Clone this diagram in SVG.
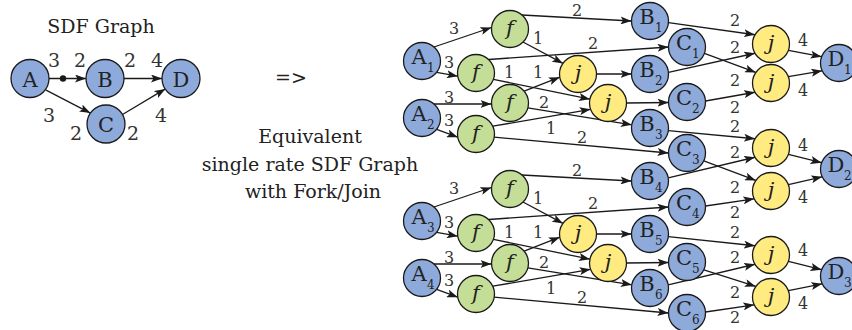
<svg xmlns="http://www.w3.org/2000/svg" width="852" height="330" viewBox="0 0 852 330">
<style>
.e{stroke:#1a1a1a;stroke-width:1.3;fill:none;marker-end:url(#ah)}
.nb{fill:#8eaadb;stroke:#1a1a1a;stroke-width:1.3}
.ng{fill:#c4de97;stroke:#1a1a1a;stroke-width:1.3}
.ny{fill:#ffeb80;stroke:#1a1a1a;stroke-width:1.3}
text{font-family:'DejaVu Serif',serif;fill:#222}
.l{font-size:21px;text-anchor:middle}
.s{font-size:12px}
.fj{font-size:21px;font-style:italic;text-anchor:middle}
.n{font-size:16px;text-anchor:middle;fill:#333}
.nl{font-size:19px;text-anchor:middle;fill:#333}
.h{font-size:19px;text-anchor:middle}
</style>
<defs>
<marker id="ah" markerUnits="userSpaceOnUse" markerWidth="11" markerHeight="8" viewBox="0 0 11 8" refX="11" refY="4" orient="auto">
<path d="M0,0 L11,4 L0,8 L2.5,4 z" fill="#1a1a1a"/>
</marker>
</defs>

<text class="h" x="101" y="33">SDF Graph</text>
<text class="h" x="291" y="84">=&gt;</text>
<text class="h" x="310" y="143">Equivalent</text>
<text class="h" x="310" y="171">single rate SDF Graph</text>
<text class="h" x="313" y="198">with Fork/Join</text>

<g id="connectors">
<path class="e" d="M49,78.5 L86,78.5"/>
<circle cx="63" cy="78.5" r="3.2" fill="#1a1a1a"/>
<path class="e" d="M124,78.5 L162,78.5"/>
<path class="e" d="M45.6,89.9 L90.4,113.1"/>
<path class="e" d="M122.5,114.5 L165.4,88.9"/>
<g id="g1">
<path class="e" d="M434,47 L491.5,27.5"/>
<path class="e" d="M436.6,72.4 L457.8,76.2"/>
<path class="e" d="M434,104 L491.5,104"/>
<path class="e" d="M436.6,129.4 L457.8,137.2"/>
<path class="e" d="M522,15 L631.5,21"/>
<path class="e" d="M523,42 L563,63.4"/>
<path class="e" d="M488.6,59.5 L668.5,47"/>
<path class="e" d="M493.4,79.3 L589.9,99.2"/>
<path class="e" d="M524.2,91.1 L559.8,77.2"/>
<path class="e" d="M527.9,107.8 L631.8,124.8"/>
<path class="e" d="M492.8,126.2 L590.6,109.3"/>
<path class="e" d="M494.2,137.2 L668.5,153"/>
<path class="e" d="M596.5,74 L631.5,74"/>
<path class="e" d="M626.5,103 L668.5,102.5"/>
</g>
<g id="g2" transform="translate(0,160)">
<path class="e" d="M434,47 L491.5,27.5"/>
<path class="e" d="M436.6,72.4 L457.8,76.2"/>
<path class="e" d="M434,104 L491.5,104"/>
<path class="e" d="M436.6,129.4 L457.8,137.2"/>
<path class="e" d="M522,15 L631.5,21"/>
<path class="e" d="M523,42 L563,63.4"/>
<path class="e" d="M488.6,59.5 L668.5,47"/>
<path class="e" d="M493.4,79.3 L589.9,99.2"/>
<path class="e" d="M524.2,91.1 L559.8,77.2"/>
<path class="e" d="M527.9,107.8 L631.8,124.8"/>
<path class="e" d="M492.8,126.2 L590.6,109.3"/>
<path class="e" d="M494.2,137.2 L668.5,153"/>
<path class="e" d="M596.5,74 L631.5,74"/>
<path class="e" d="M626.5,103 L668.5,102.5"/>
</g>
<path class="e" d="M668.4,22.6 L755,34.75"/>
<path class="e" d="M668.4,72.4 L755,53.25"/>
<path class="e" d="M704.4,53.3 L755.8,72.4"/>
<path class="e" d="M705.5,101 L755,92.25"/>
<path class="e" d="M668.3,130.6 L755,138.75"/>
<path class="e" d="M703.8,160.8 L755.8,180.4"/>
<path class="e" d="M668.2,177.8 L755,157.25"/>
<path class="e" d="M705.5,206 L754.2,198.8"/>
<path class="e" d="M668.3,236.6 L755,245.75"/>
<path class="e" d="M703.8,269.8 L755.8,286.4"/>
<path class="e" d="M668.2,284.8 L755,264.25"/>
<path class="e" d="M705.5,312 L754.2,304.8"/>
<path class="e" d="M788.4,50.3 L821.6,56.7"/>
<path class="e" d="M788.4,76.7 L822.2,70.8"/>
<path class="e" d="M788.4,154.3 L821.6,162.7"/>
<path class="e" d="M788.4,184.7 L822.2,176.8"/>
<path class="e" d="M788.4,261.3 L821.6,269.7"/>
<path class="e" d="M788.4,290.7 L822.2,283.8"/>
</g>

<g id="edge-labels">
<text class="nl" x="54" y="67">3</text>
<text class="nl" x="80" y="67">2</text>
<text class="nl" x="130" y="67">2</text>
<text class="nl" x="157" y="67">4</text>
<text class="nl" x="49" y="122">3</text>
<text class="nl" x="161" y="122">4</text>
<text class="nl" x="76" y="140">2</text>
<text class="nl" x="133" y="140">2</text>
<g>
<text class="n" x="454" y="34">3</text>
<text class="n" x="449" y="68">3</text>
<text class="n" x="449" y="103">3</text>
<text class="n" x="449" y="126">3</text>
<text class="n" x="577" y="16">2</text>
<text class="n" x="538" y="44">1</text>
<text class="n" x="593" y="49">2</text>
<text class="n" x="509" y="78">1</text>
<text class="n" x="538" y="78">1</text>
<text class="n" x="544" y="108">2</text>
<text class="n" x="551" y="134">1</text>
<text class="n" x="582" y="143">2</text>
</g>
<g transform="translate(0,160)">
<text class="n" x="454" y="34">3</text>
<text class="n" x="449" y="68">3</text>
<text class="n" x="449" y="103">3</text>
<text class="n" x="449" y="126">3</text>
<text class="n" x="577" y="16">2</text>
<text class="n" x="538" y="44">1</text>
<text class="n" x="593" y="49">2</text>
<text class="n" x="509" y="78">1</text>
<text class="n" x="538" y="78">1</text>
<text class="n" x="544" y="108">2</text>
<text class="n" x="551" y="134">1</text>
<text class="n" x="582" y="143">2</text>
</g>
<text class="n" x="735" y="26">2</text>
<text class="n" x="735" y="53">2</text>
<text class="n" x="735" y="86">2</text>
<text class="n" x="735" y="113">2</text>
<text class="n" x="735" y="132">2</text>
<text class="n" x="735" y="158">2</text>
<text class="n" x="735" y="193">2</text>
<text class="n" x="735" y="218">2</text>
<text class="n" x="735" y="238">2</text>
<text class="n" x="735" y="263">2</text>
<text class="n" x="735" y="298">2</text>
<text class="n" x="735" y="323">2</text>
<text class="n" x="803" y="46">4</text>
<text class="n" x="803" y="96">4</text>
<text class="n" x="803" y="151">4</text>
<text class="n" x="803" y="203">4</text>
<text class="n" x="803" y="256">4</text>
<text class="n" x="803" y="309">4</text>
</g>

<g id="A" transform="translate(30,78.5)"><circle class="nb" r="19"/><text class="l" y="8">A</text></g>
<g id="B" transform="translate(105,78.5)"><circle class="nb" r="19"/><text class="l" y="8">B</text></g>
<g id="C" transform="translate(106,124)"><circle class="nb" r="19"/><text class="l" y="8">C</text></g>
<g id="D" transform="translate(181,78.5)"><circle class="nb" r="19"/><text class="l" y="8">D</text></g>

<g id="A1" transform="translate(422,61)"><circle class="nb" r="18.5"/><text class="l" x="-3" y="3">A</text><text class="s" x="5" y="11">1</text></g>
<g id="A2" transform="translate(422,118)"><circle class="nb" r="18.5"/><text class="l" x="-3" y="3">A</text><text class="s" x="5" y="11">2</text></g>
<g id="A3" transform="translate(422,221)"><circle class="nb" r="18.5"/><text class="l" x="-3" y="3">A</text><text class="s" x="5" y="11">3</text></g>
<g id="A4" transform="translate(422,278)"><circle class="nb" r="18.5"/><text class="l" x="-3" y="3">A</text><text class="s" x="5" y="11">4</text></g>

<g id="f1" transform="translate(510,29)"><circle class="ng" r="18.5"/><text class="fj" y="6">f</text></g>
<g id="f2" transform="translate(476,73)"><circle class="ng" r="18.5"/><text class="fj" y="6">f</text></g>
<g id="f3" transform="translate(510,103)"><circle class="ng" r="18.5"/><text class="fj" y="6">f</text></g>
<g id="f4" transform="translate(476,134)"><circle class="ng" r="18.5"/><text class="fj" y="6">f</text></g>
<g id="f5" transform="translate(510,189)"><circle class="ng" r="18.5"/><text class="fj" y="6">f</text></g>
<g id="f6" transform="translate(476,233)"><circle class="ng" r="18.5"/><text class="fj" y="6">f</text></g>
<g id="f7" transform="translate(510,263)"><circle class="ng" r="18.5"/><text class="fj" y="6">f</text></g>
<g id="f8" transform="translate(476,294)"><circle class="ng" r="18.5"/><text class="fj" y="6">f</text></g>

<g id="j1" transform="translate(578,74)"><circle class="ny" r="18.5"/><text class="fj" y="6">j</text></g>
<g id="j2" transform="translate(608,103)"><circle class="ny" r="18.5"/><text class="fj" y="6">j</text></g>
<g id="j3" transform="translate(578,234)"><circle class="ny" r="18.5"/><text class="fj" y="6">j</text></g>
<g id="j4" transform="translate(608,263)"><circle class="ny" r="18.5"/><text class="fj" y="6">j</text></g>

<g id="B1" transform="translate(650,21)"><circle class="nb" r="18.5"/><text class="l" x="-3" y="3">B</text><text class="s" x="5" y="11">1</text></g>
<g id="C1" transform="translate(687,47)"><circle class="nb" r="18.5"/><text class="l" x="-3" y="3">C</text><text class="s" x="5" y="11">1</text></g>
<g id="B2" transform="translate(650,74)"><circle class="nb" r="18.5"/><text class="l" x="-3" y="3">B</text><text class="s" x="5" y="11">2</text></g>
<g id="C2" transform="translate(687,102)"><circle class="nb" r="18.5"/><text class="l" x="-3" y="3">C</text><text class="s" x="5" y="11">2</text></g>
<g id="B3" transform="translate(650,128)"><circle class="nb" r="18.5"/><text class="l" x="-3" y="3">B</text><text class="s" x="5" y="11">3</text></g>
<g id="C3" transform="translate(687,153)"><circle class="nb" r="18.5"/><text class="l" x="-3" y="3">C</text><text class="s" x="5" y="11">3</text></g>
<g id="B4" transform="translate(650,181)"><circle class="nb" r="18.5"/><text class="l" x="-3" y="3">B</text><text class="s" x="5" y="11">4</text></g>
<g id="C4" transform="translate(687,207)"><circle class="nb" r="18.5"/><text class="l" x="-3" y="3">C</text><text class="s" x="5" y="11">4</text></g>
<g id="B5" transform="translate(650,234)"><circle class="nb" r="18.5"/><text class="l" x="-3" y="3">B</text><text class="s" x="5" y="11">5</text></g>
<g id="C5" transform="translate(687,262)"><circle class="nb" r="18.5"/><text class="l" x="-3" y="3">C</text><text class="s" x="5" y="11">5</text></g>
<g id="B6" transform="translate(650,288)"><circle class="nb" r="18.5"/><text class="l" x="-3" y="3">B</text><text class="s" x="5" y="11">6</text></g>
<g id="C6" transform="translate(687,313)"><circle class="nb" r="18.5"/><text class="l" x="-3" y="3">C</text><text class="s" x="5" y="11">6</text></g>

<g id="j5" transform="translate(771,44)"><circle class="ny" r="18.5"/><text class="fj" y="6">j</text></g>
<g id="j6" transform="translate(771,83)"><circle class="ny" r="18.5"/><text class="fj" y="6">j</text></g>
<g id="j7" transform="translate(771,148)"><circle class="ny" r="18.5"/><text class="fj" y="6">j</text></g>
<g id="j8" transform="translate(771,191)"><circle class="ny" r="18.5"/><text class="fj" y="6">j</text></g>
<g id="j9" transform="translate(771,255)"><circle class="ny" r="18.5"/><text class="fj" y="6">j</text></g>
<g id="j10" transform="translate(771,297)"><circle class="ny" r="18.5"/><text class="fj" y="6">j</text></g>

<g id="D1" transform="translate(839,63)"><circle class="nb" r="18.5"/><text class="l" x="-3" y="3">D</text><text class="s" x="5" y="11">1</text></g>
<g id="D2" transform="translate(839,169)"><circle class="nb" r="18.5"/><text class="l" x="-3" y="3">D</text><text class="s" x="5" y="11">2</text></g>
<g id="D3" transform="translate(839,276)"><circle class="nb" r="18.5"/><text class="l" x="-3" y="3">D</text><text class="s" x="5" y="11">3</text></g>
</svg>
